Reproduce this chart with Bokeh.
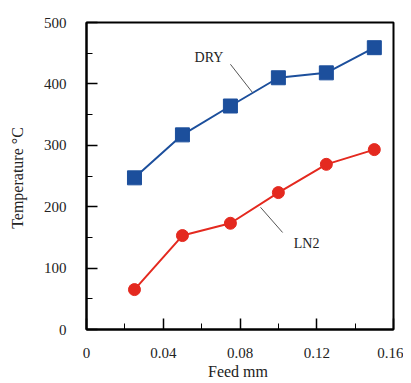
from bokeh.plotting import figure
from bokeh.models import FixedTicker, CustomJSTickFormatter, Range1d
from bokeh.embed import file_html
from bokeh.resources import INLINE
from bokeh.core.properties import value

feed = [0.025, 0.05, 0.075, 0.1, 0.125, 0.15]
dry = [247, 317, 364, 410, 418, 459]
ln2 = [65, 153, 173, 223, 269, 293]

x_ticks = [0, 0.04, 0.08, 0.12, 0.16]
x_minor = [0.02, 0.06, 0.10, 0.14]
y_ticks = [0, 100, 200, 300, 400, 500]
y_minor = [50, 150, 250, 350, 450]

# annotation labels with leader lines
ann_text = ["DRY", "LN2"]
ann_x = [0.0638, 0.1147]
ann_y = [443, 140]
lead_x0 = [0.0750, 0.0907]
lead_y0 = [432, 199]
lead_x1 = [0.0865, 0.1022]
lead_y1 = [386, 158]

BLUE = "#1C4F9C"
RED = "#E4291F"
FONT = "Liberation Serif"

p = figure(frame_width=307, frame_height=307, output_backend="svg", toolbar_location=None,
           x_range=Range1d(0, 0.16), y_range=Range1d(0, 500),
           min_border_left=86, min_border_right=10, min_border_top=22, min_border_bottom=46)

p.grid.visible = False
p.background_fill_color = "white"
p.border_fill_color = "white"
p.outline_line_color = "black"
p.outline_line_width = 2

for ax in (p.xaxis[0], p.yaxis[0]):
    ax.axis_line_width = 2
    ax.axis_line_color = "black"
    ax.major_tick_in = 11
    ax.major_tick_out = 0
    ax.minor_tick_in = 6
    ax.minor_tick_out = 0
    ax.major_tick_line_width = 1.5
    ax.minor_tick_line_width = 1
    ax.major_label_text_font = FONT
    ax.major_label_text_font_size = "15px"
    ax.major_label_text_color = "#222222"
    ax.axis_label_text_font = FONT
    ax.axis_label_text_font_size = "16px"
    ax.axis_label_text_font_style = "normal"
    ax.axis_label_text_color = "#222222"

p.xaxis[0].ticker = FixedTicker(ticks=x_ticks, minor_ticks=x_minor)
p.yaxis[0].ticker = FixedTicker(ticks=y_ticks, minor_ticks=y_minor)
p.xaxis[0].formatter = CustomJSTickFormatter(code="return tick === 0 ? '0' : tick.toFixed(2)")
p.xaxis[0].axis_label = "Feed  mm"
p.yaxis[0].axis_label = "Temperature  °C"
p.xaxis[0].major_label_standoff = 18
p.xaxis[0].axis_label_standoff = 2
p.yaxis[0].major_label_standoff = 20
p.yaxis[0].axis_label_standoff = 15

p.line(feed, dry, line_color=BLUE, line_width=2)
p.scatter(feed, dry, marker="square", size=14, fill_color=BLUE, line_color=BLUE)
p.line(feed, ln2, line_color=RED, line_width=2)
p.scatter(feed, ln2, marker="circle", size=12, fill_color=RED, line_color=RED)

p.segment(x0=lead_x0, y0=lead_y0, x1=lead_x1, y1=lead_y1, line_color="#555555", line_width=1)
p.text(x=ann_x, y=ann_y, text=ann_text, text_font=value(FONT), text_font_size="14px",
       text_align="center", text_baseline="middle", text_color="#222222")

open("out.html", "w").write(file_html(p, INLINE))
